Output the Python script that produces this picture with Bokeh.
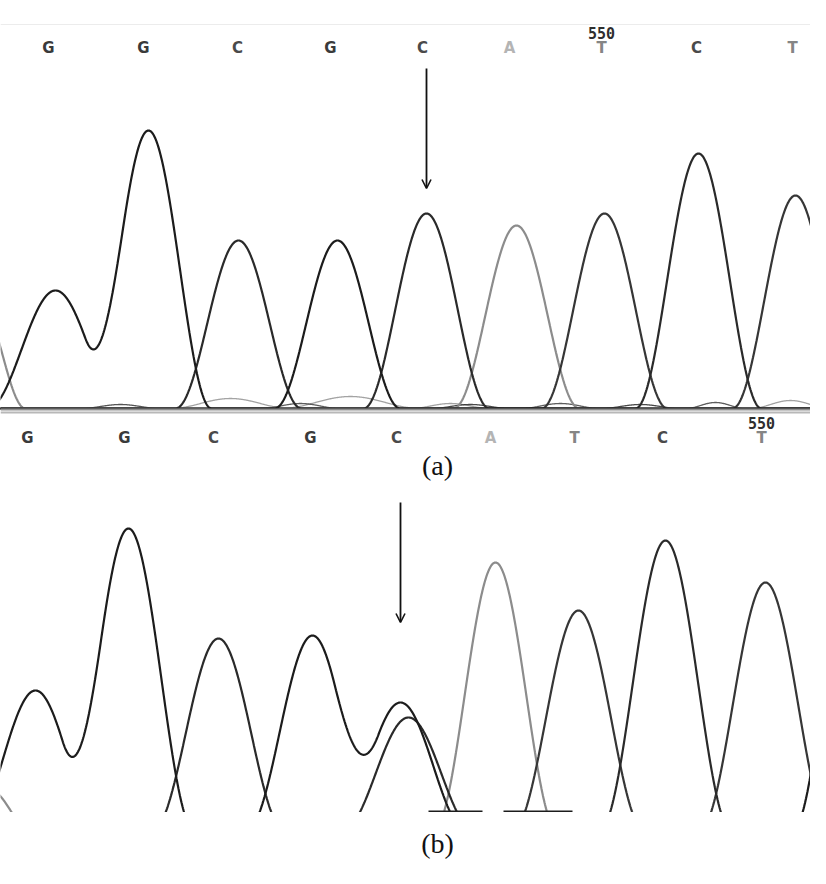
import numpy as np
from bokeh.plotting import figure
from bokeh.layouts import column
from bokeh.models import Range1d, Span, Arrow, OpenHead, ColumnDataSource
from bokeh.core.properties import value
from bokeh.embed import file_html
from bokeh.resources import INLINE

# ---------------- data: panel (a) ----------------
a_peak_pos = [-20, 55, 148, 238, 337, 426, 516, 604, 698, 795]
a_peak_base = ["A", "G", "G", "C", "G", "C", "A", "T", "C", "T"]
a_peak_height = [104, 118, 278, 168, 168, 195, 183, 195, 255, 213]
a_peak_width = [45, 68, 63, 63, 63, 63, 63, 63, 63, 63]

a_noise_pos = [120, 230, 300, 350, 450, 470, 560, 640, 715, 790]
a_noise_base = ["C", "A", "T", "A", "A", "G", "T", "G", "T", "A"]
a_noise_height = [4, 10, 5, 12, 5, 4, 5, 4, 6, 8]
a_noise_width = [40, 60, 40, 70, 40, 40, 40, 40, 30, 40]

a_top_calls = ["G", "G", "C", "G", "C", "A", "T", "C", "T"]
a_top_call_pos = [48, 143, 237, 330, 422, 509, 601, 696, 792]
a_bot_calls = ["G", "G", "C", "G", "C", "A", "T", "C", "T"]
a_bot_call_pos = [27, 124, 213, 310, 396, 490, 574, 662, 761]
a_top_number, a_top_number_idx = "550", 6
a_bot_number, a_bot_number_idx = "550", 8
a_mutation_idx = 5

# ---------------- data: panel (b) ----------------
b_peak_pos = [-10, 35, 128, 218, 312, 400, 408, 495, 578, 665, 765, 858]
b_peak_base = ["A", "G", "G", "C", "G", "G", "C", "A", "T", "C", "T", "G"]
b_peak_height = [40, 140, 302, 192, 195, 128, 113, 268, 220, 290, 248, 320]
b_peak_width = [40, 66, 66, 66, 66, 66, 66, 62, 66, 66, 66, 66]
b_flat_start = [428, 503]
b_flat_end = [482, 572]
b_mutation_pos = 400

# ---------------- styles ----------------
trace_color = {"G": "#1c1c1c", "C": "#2a2a2a", "A": "#8c8c8c", "T": "#363636"}
call_color = {"G": "#3a3a3a", "C": "#4a4a4a", "A": "#b4b4b4", "T": "#858585"}
draw_order = ["A", "T", "C", "G"]
scan = np.arange(-80, 920, 0.5)


def channel_trace(positions, bases, heights, widths, base):
    y = np.zeros_like(scan)
    for c, b, h, w in zip(positions, bases, heights, widths):
        if b != base:
            continue
        d = np.abs(scan - c)
        y += np.where(d < w, h * np.cos(np.pi * d / (2 * w)) ** 2, 0.0)
    return y


def blank_fig(h, xr, yr):
    f = figure(width=810, height=h, x_range=xr, y_range=yr,
               output_backend="svg", toolbar_location=None, min_border=0,
               x_axis_location=None, y_axis_location=None,
               outline_line_color=None, background_fill_color="white",
               border_fill_color="white")
    f.grid.visible = False
    return f


# ---------------- panel (a) ----------------
pa = blank_fig(490, Range1d(0, 810), Range1d(-82, 408))
pa.add_layout(Span(location=384, dimension="width", line_color="#ececec", line_width=1))
pa.add_layout(Span(location=-4, dimension="width", line_color="#b8b8b8", line_width=2))
pa.add_layout(Span(location=-1, dimension="width", line_color="#8e8e8e", line_width=2))
for base in draw_order:
    y_noise = channel_trace(a_noise_pos, a_noise_base, a_noise_height, a_noise_width, base)
    pa.line(scan, y_noise, line_color=trace_color[base], line_width=1.3, line_alpha=0.8)
for base in draw_order:
    y = channel_trace(a_peak_pos, a_peak_base, a_peak_height, a_peak_width, base)
    pa.line(scan, y, line_color=trace_color[base], line_width=2.2)

src_top = ColumnDataSource(dict(x=a_top_call_pos, y=[361] * len(a_top_calls), t=a_top_calls,
                                c=[call_color[b] for b in a_top_calls]))
pa.text(x="x", y="y", text="t", text_color="c", source=src_top, text_font=value("DejaVu Sans"),
        text_font_size="15px", text_align="center", text_baseline="middle", text_font_style="bold")
src_bot = ColumnDataSource(dict(x=a_bot_call_pos, y=[-29] * len(a_bot_calls), t=a_bot_calls,
                                c=[call_color[b] for b in a_bot_calls]))
pa.text(x="x", y="y", text="t", text_color="c", source=src_bot, text_font=value("DejaVu Sans"),
        text_font_size="15px", text_align="center", text_baseline="middle", text_font_style="bold")
pa.text(x=[a_top_call_pos[a_top_number_idx]], y=[376], text=[a_top_number], text_color="#2e2e2e",
        text_font=value("DejaVu Sans Mono"), text_font_size="15px", text_align="center",
        text_baseline="middle", text_font_style="bold")
pa.text(x=[a_bot_call_pos[a_bot_number_idx]], y=[-14], text=[a_bot_number], text_color="#2e2e2e",
        text_font=value("DejaVu Sans Mono"), text_font_size="15px", text_align="center",
        text_baseline="middle", text_font_style="bold")
pa.text(x=[437], y=[-57], text=["(a)"], text_color="#111111", text_font=value("Liberation Serif"),
        text_font_size="28px", text_align="center", text_baseline="middle")
xm = a_peak_pos[a_mutation_idx]
pa.add_layout(Arrow(end=OpenHead(size=9, line_width=1.6, line_color="#111111"),
                    x_start=xm, y_start=340, x_end=xm, y_end=220,
                    line_width=1.8, line_color="#111111"))

# ---------------- panel (b) ----------------
pb = blank_fig(322, Range1d(0, 810), Range1d(18, 340))
for base in draw_order:
    y = channel_trace(b_peak_pos, b_peak_base, b_peak_height, b_peak_width, base)
    pb.line(scan, y, line_color=trace_color[base], line_width=2.2)
pb.segment(x0=b_flat_start, y0=[19] * len(b_flat_start), x1=b_flat_end, y1=[19] * len(b_flat_end),
           line_color="#1c1c1c", line_width=2.2)
pb.add_layout(Arrow(end=OpenHead(size=9, line_width=1.6, line_color="#111111"),
                    x_start=b_mutation_pos, y_start=328, x_end=b_mutation_pos, y_end=208,
                    line_width=1.8, line_color="#111111"))

# ---------------- caption (b) ----------------
pc = blank_fig(56, Range1d(0, 810), Range1d(0, 56))
pc.text(x=[437], y=[25], text=["(b)"], text_color="#111111", text_font=value("Liberation Serif"),
        text_font_size="28px", text_align="center", text_baseline="middle")

layout = column(pa, pb, pc, spacing=0)
open("out.html", "w").write(file_html(layout, INLINE))
